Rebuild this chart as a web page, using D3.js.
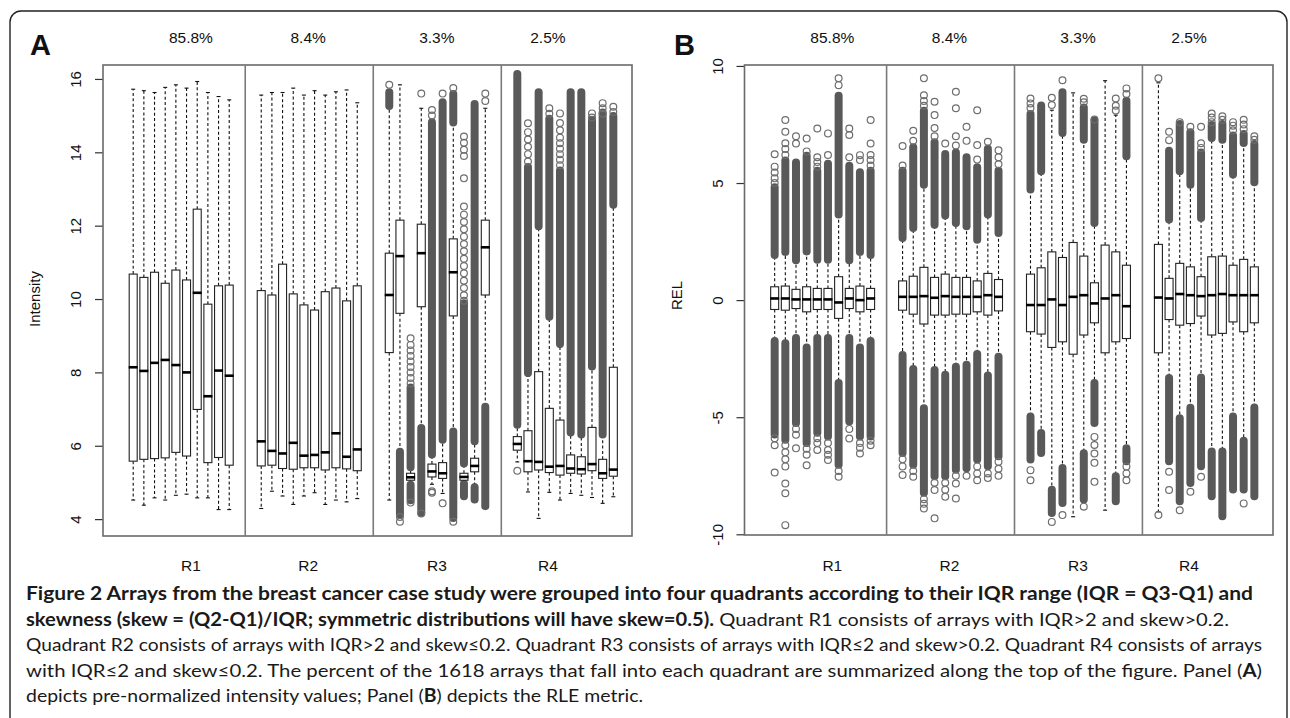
<!DOCTYPE html>
<html>
<head>
<meta charset="utf-8">
<script src="https://cdnjs.cloudflare.com/ajax/libs/d3/7.8.5/d3.min.js"></script>
<style>
  body { margin: 0; background: #fff; }
  svg { display: block; }
</style>
</head>
<body>
<div id="chart"></div>
<script>
// quadrants and share of arrays
const groups = ["R1", "R2", "R3", "R4"];
const shares = ["85.8%", "8.4%", "3.3%", "2.5%"];
const intensityTicks = [4, 6, 8, 10, 12, 14, 16];
const relTicks = [-10, -5, 0, 5, 10];

// box stats per array: [lower whisker, Q1, median, Q3, upper whisker]
const intensityStats = [
  [4.52, 5.58, 8.14, 10.68, 15.72], [4.38, 5.63, 8.04, 10.59, 15.68], [4.58, 5.65, 8.26, 10.73, 15.63],
  [4.52, 5.67, 8.34, 10.43, 15.77], [4.65, 5.82, 8.20, 10.79, 15.84], [4.68, 5.72, 8.00, 10.52, 15.75],
  [4.58, 6.99, 10.17, 12.45, 15.93], [4.58, 5.54, 7.35, 9.86, 15.63], [4.26, 5.68, 8.05, 10.36, 15.52],
  [4.26, 5.47, 7.91, 10.38, 15.43],
  [4.29, 5.45, 6.12, 10.23, 15.56], [4.76, 5.47, 5.86, 10.11, 15.63], [4.63, 5.38, 5.79, 10.95, 15.63],
  [4.40, 5.36, 6.08, 10.14, 15.75], [4.63, 5.40, 5.73, 9.84, 15.56], [4.72, 5.40, 5.75, 9.70, 15.68],
  [4.40, 5.34, 5.82, 10.20, 15.56], [4.52, 5.40, 6.34, 10.30, 15.65], [4.47, 5.37, 5.70, 9.95, 15.70],
  [4.56, 5.32, 5.90, 10.36, 15.35],
  [4.52, 8.54, 10.11, 11.25, 15.20], [5.88, 9.61, 11.17, 12.15, 15.84], [4.95, 5.06, 5.14, 5.25, 5.35],
  [6.55, 9.79, 11.25, 12.04, 15.20], [4.95, 5.15, 5.30, 5.50, 5.70], [4.70, 5.11, 5.25, 5.54, 6.10],
  [6.43, 9.54, 10.73, 11.64, 14.75], [4.98, 5.06, 5.15, 5.25, 5.45], [4.95, 5.29, 5.45, 5.66, 6.05],
  [7.11, 10.11, 11.41, 12.15, 15.20],
  [5.56, 5.88, 6.05, 6.25, 6.50], [4.74, 5.29, 5.58, 6.41, 7.90], [4.02, 5.34, 5.56, 8.02, 11.90],
  [4.73, 5.27, 5.43, 7.02, 9.45], [4.52, 5.20, 5.45, 6.70, 8.70], [4.70, 5.25, 5.38, 5.75, 6.30],
  [4.65, 5.23, 5.36, 5.70, 6.25], [4.59, 5.32, 5.50, 6.50, 8.10], [4.43, 5.11, 5.25, 5.63, 6.25],
  [4.61, 5.17, 5.35, 8.14, 12.50]
];
// runs of overlapping outliers: [from, to]
const intensityDenseHi = [
  null, null, null, null, null, null, null, null, null, null,
  null, null, null, null, null, null, null, null, null, null,
  [15.25, 15.65], null, [5.40, 7.60], null, [5.75, 14.83], [6.15, 15.38], [14.80, 15.60], [5.50, 9.90], [6.11, 15.33], null,
  [6.56, 16.15], [7.97, 13.61], [11.97, 15.65], [9.50, 14.93], [8.76, 13.52], [6.35, 15.65], [6.29, 15.65], [8.15, 14.90], [6.29, 15.10], [12.56, 15.00]
];
const intensityDenseLo = [
  null, null, null, null, null, null, null, null, null, null,
  null, null, null, null, null, null, null, null, null, null,
  null, [4.11, 5.85], [4.50, 4.95], [4.15, 6.50], null, null, [4.02, 6.40], [4.61, 4.98], [4.52, 4.88], [4.34, 7.08],
  null, null, null, null, null, null, null, null, null, null
];
// single outliers
const intensityPoints = [
  [], [], [], [], [], [], [], [], [], [],
  [], [], [], [], [], [], [], [], [], [],
  [15.84], [4.06, 3.93], [7.7, 7.85, 8.0, 8.15, 8.3, 8.45, 8.6, 8.75, 8.93, 4.45], [15.6, 4.15],
  [15.0, 15.15, 4.72, 4.76], [15.6, 4.43], [15.75, 3.93],
  [9.95, 10.1, 10.3, 10.5, 10.7, 10.9, 11.1, 11.3, 11.5, 11.7, 11.9, 12.1, 12.3, 12.52, 13.29, 13.9, 14.07, 14.26, 14.43],
  [], [15.4, 15.6],
  [5.32], [13.75, 13.95, 14.15, 14.35, 14.55, 14.79], [], [15.05, 15.2],
  [13.65, 13.8, 13.95, 14.1, 14.25, 14.4, 14.6, 14.8, 15.06], [], [], [14.95, 15.06], [15.05, 15.2, 15.34], [15.1, 15.24]
];

const relStats = [
  [-1.68, -0.40, 0.07, 0.57, 1.85], [-1.78, -0.43, 0.07, 0.60, 1.99], [-1.57, -0.36, 0.03, 0.46, 1.64],
  [-1.96, -0.50, 0.03, 0.57, 2.02], [-1.57, -0.40, 0.03, 0.50, 1.67], [-1.57, -0.40, 0.03, 0.50, 1.67],
  [-3.49, -0.78, -0.10, 1.00, 3.60], [-1.57, -0.36, 0.07, 0.50, 1.64], [-1.96, -0.50, 0.00, 0.60, 1.99],
  [-1.68, -0.40, 0.07, 0.50, 1.85],
  [-2.28, -0.43, 0.14, 0.82, 2.60], [-2.88, -0.60, 0.14, 1.02, 3.00], [-4.55, -1.02, 0.17, 1.40, 4.85],
  [-2.92, -0.64, 0.10, 0.97, 3.15], [-3.13, -0.64, 0.17, 1.11, 3.55], [-2.78, -0.60, 0.14, 0.97, 3.22],
  [-2.70, -0.60, 0.14, 0.97, 3.10], [-2.25, -0.50, 0.14, 0.82, 2.50], [-3.16, -0.64, 0.21, 1.14, 3.60],
  [-2.35, -0.46, 0.14, 0.88, 2.80],
  [-4.91, -1.35, -0.21, 1.11, 4.65], [-5.62, -1.45, -0.21, 1.38, 5.45], [-8.04, -2.02, 0.03, 2.06, 8.11],
  [-7.12, -1.78, -0.21, 1.82, 7.10], [-9.25, -2.31, 0.14, 2.46, 8.85], [-6.48, -1.49, 0.21, 1.88, 6.80],
  [-3.49, -0.97, -0.14, 0.74, 3.25], [-8.97, -2.25, 0.07, 2.35, 9.37], [-7.47, -1.78, 0.21, 2.06, 7.90],
  [-6.26, -1.64, -0.26, 1.49, 6.10],
  [-9.04, -2.25, 0.11, 2.38, 9.28], [-3.27, -0.83, 0.07, 0.93, 3.38], [-4.98, -1.07, 0.26, 1.57, 5.45],
  [-4.55, -1.00, 0.21, 1.42, 4.88], [-3.24, -0.68, 0.17, 1.00, 3.45], [-6.40, -1.49, 0.21, 1.85, 6.85],
  [-6.40, -1.42, 0.26, 1.88, 6.80], [-4.91, -0.93, 0.21, 1.49, 5.30], [-5.95, -1.35, 0.21, 1.74, 6.65],
  [-4.53, -0.97, 0.21, 1.42, 4.98]
];
const relDenseHi = [
  [1.90, 4.84], [2.03, 5.98], [1.68, 5.90], [2.06, 6.19], [1.70, 5.55], [1.70, 5.84], [3.63, 8.75], [1.68, 5.76], [2.03, 5.48], [1.90, 5.55],
  [2.63, 5.55], [3.06, 6.55], [4.91, 8.11], [3.20, 6.76], [3.59, 6.26], [3.27, 6.33], [3.13, 6.12], [2.56, 5.69], [3.63, 6.48], [2.85, 5.55],
  [4.70, 7.97], [5.48, 8.33], null, [7.12, 8.90], null, [6.83, 8.25], [3.27, 7.69], null, null, [6.12, 8.54],
  null, [3.42, 6.40], [5.48, 7.54], [4.91, 7.19], [3.49, 6.33], [6.90, 7.50], [6.83, 7.54], [5.34, 7.05], [6.69, 7.12], [5.01, 6.69]
];
const relDenseLo = [
  [-5.76, -1.72], [-5.98, -1.82], [-5.27, -1.60], [-6.12, -2.00], [-5.69, -1.60], [-5.84, -1.60], [-7.05, -3.52], [-5.20, -1.60], [-5.84, -2.00], [-5.84, -1.72],
  [-6.55, -2.32], [-7.05, -2.92], [-8.25, -4.60], [-7.54, -2.96], [-7.54, -3.17], [-7.26, -2.82], [-7.20, -2.74], [-6.83, -2.28], [-7.12, -3.20], [-6.69, -2.40],
  [-6.83, -4.95], [-6.55, -5.65], [-9.11, -8.08], [-8.68, -7.15], null, [-8.54, -6.52], [-5.27, -3.52], null, [-8.61, -7.50], [-6.90, -6.30],
  null, [-6.90, -3.30], [-8.61, -5.02], [-7.83, -4.58], [-7.12, -3.28], [-8.40, -6.44], [-9.25, -6.44], [-8.11, -4.95], [-8.11, -5.98], [-8.40, -4.56]
];
const relPoints = [
  [5.0, 5.2, 5.45, 5.7, 6.23, -5.9, -6.2, -7.36],
  [6.2, 6.45, 6.7, 7.19, 7.69, -6.2, -6.5, -6.8, -7.1, -7.83, -8.25, -9.61],
  [6.69, 7.0, -5.5, -5.75, -6.33],
  [6.35, 6.9, -6.35, -6.6, -7.05],
  [5.7, 5.9, 6.1, 7.33, -5.9, -6.1, -6.4],
  [6.2, 7.12, -6.1, -6.4, -6.6, -6.83],
  [9.18, 9.47, -7.3, -7.54],
  [6.1, 7.05, 7.33, -5.5, -5.91],
  [5.98, 6.19, -6.1, -6.3, -6.55],
  [5.75, 5.98, 6.2, 6.69, 7.69, -6.0, -6.2],
  [5.75, 6.58, -6.8, -7.1, -7.47],
  [6.8, 7.23, -7.3, -7.54],
  [8.3, 8.5, 8.75, 9.47, -8.5, -8.7, -8.9],
  [7.0, 7.35, 7.9, 8.47, -7.8, -8.11, -9.32],
  [6.69, -7.8, -8.1, -8.4],
  [6.6, 7.0, 8.19, 8.9, -7.5, -7.83, -8.47],
  [6.8, 7.4, -7.5],
  [6.0, 6.62, 8.11, -7.1, -7.4, -7.69],
  [6.76, -7.4, -7.6],
  [5.8, 6.1, 6.4, -6.9, -7.2, -7.5],
  [8.2, 8.4, 8.61, -7.26, -7.69],
  [],
  [8.33, 8.64, -9.47],
  [9.39, -9.18],
  [],
  [8.45, 8.6, -8.82],
  [7.71, -5.84, -6.19, -6.55, -6.95, -7.76],
  [],
  [8.1, 8.3, 8.61],
  [8.8, 9.04, -7.1, -7.4, -7.69],
  [9.47, -9.18],
  [6.83, 7.19, -7.33, -8.11],
  [7.6, -8.97],
  [7.4, -8.18],
  [6.5, 6.7, 7.4, -7.54],
  [7.6, 7.8, 7.97],
  [7.7, 7.85],
  [7.25, 7.45, 7.6],
  [7.3, 7.5, 7.7, -8.68],
  [6.85, 7.0]
];

const W = 1290, H = 718;
const slotOf = i => Math.floor(i / 10) * 12 + (i % 10);
const labelSlots = [5.41, 16.4, 28.46, 38.87];
const dividers = [10.5, 22.5, 34.5];
const boxW = 8;

const svg = d3.select('#chart').append('svg')
  .attr('width', W).attr('height', H)
  .style('font-family', '"Liberation Sans", Arial, sans-serif');

// outer frame with rounded top corners
svg.append('path')
  .attr('d', 'M10,740 V22 A11,11 0 0 1 21,11 H1276 A11,11 0 0 1 1287,22 V740')
  .attr('fill', 'none').attr('stroke', '#222').attr('stroke-width', 1.4);

function drawPanel(p) {
  const x = d3.scaleLinear().domain([-2.83, 46.75]).range([p.x0, p.x1]);
  const y = d3.scaleLinear().domain(p.domain).range([p.y1, p.y0]);
  const g = svg.append('g');

  // y axis, labels parallel to the axis as in base R
  const ax = g.append('g')
    .attr('transform', `translate(${p.x0},0)`)
    .call(d3.axisLeft(y).tickValues(p.ticks).tickSize(8).tickFormat(d => String(d)));
  ax.select('.domain').remove();
  ax.selectAll('line').attr('stroke', '#333').attr('stroke-width', 1.2);
  ax.selectAll('text')
    .attr('x', 0).attr('dy', 0)
    .attr('transform', 'translate(-22,0) rotate(-90)')
    .attr('text-anchor', 'middle')
    .style('font-size', '15px').style('font-family', '"Liberation Sans", Arial, sans-serif')
    .attr('fill', '#111');

  g.append('text')
    .attr('transform', `translate(${p.x0 - 63},${y(p.labelAt)}) rotate(-90)`)
    .attr('text-anchor', 'middle').style('font-size', '15px').attr('fill', '#111')
    .text(p.ylab);

  g.append('text').attr('x', p.letterX).attr('y', 55)
    .style('font-size', '29px').style('font-weight', 'bold').attr('fill', '#111')
    .text(p.letter);

  // percentages and quadrant names
  g.selectAll('.share').data(shares).enter().append('text')
    .attr('x', (d, i) => x(labelSlots[i])).attr('y', 43)
    .attr('text-anchor', 'middle').style('font-size', '15.5px').attr('fill', '#111')
    .text(d => d);
  g.selectAll('.grp').data(groups).enter().append('text')
    .attr('x', (d, i) => x(labelSlots[i])).attr('y', 571)
    .attr('text-anchor', 'middle').style('font-size', '15.5px').attr('fill', '#111')
    .text(d => d);

  const items = p.stats.map((s, i) => ({ s, cx: x(slotOf(i)), hi: p.denseHi[i], lo: p.denseLo[i], pts: p.points[i] }));

  // whiskers
  const wk = g.append('g').attr('stroke', '#111').attr('stroke-width', 1.1);
  items.forEach(d => {
    wk.append('line').attr('x1', d.cx).attr('x2', d.cx).attr('y1', y(d.s[3])).attr('y2', y(d.s[4]))
      .attr('stroke-dasharray', '3,2.4');
    wk.append('line').attr('x1', d.cx).attr('x2', d.cx).attr('y1', y(d.s[1])).attr('y2', y(d.s[0]))
      .attr('stroke-dasharray', '3,2.4');
    wk.append('line').attr('x1', d.cx - 2).attr('x2', d.cx + 2).attr('y1', y(d.s[4])).attr('y2', y(d.s[4]));
    wk.append('line').attr('x1', d.cx - 2).attr('x2', d.cx + 2).attr('y1', y(d.s[0])).attr('y2', y(d.s[0]));
  });

  // dense outlier runs
  const dense = [];
  items.forEach(d => { if (d.hi) dense.push({ cx: d.cx, r: d.hi }); if (d.lo) dense.push({ cx: d.cx, r: d.lo }); });
  g.selectAll('.dense').data(dense).enter().append('rect')
    .attr('x', d => d.cx - 4).attr('width', 8)
    .attr('y', d => y(d.r[1]) - 3.5).attr('height', d => Math.max(7, y(d.r[0]) - y(d.r[1]) + 7))
    .attr('rx', 4).attr('fill', '#595959');

  // single outliers
  const pts = [];
  items.forEach(d => d.pts.forEach(v => pts.push({ cx: d.cx, v })));
  g.selectAll('.pt').data(pts).enter().append('circle')
    .attr('cx', d => d.cx).attr('cy', d => y(d.v)).attr('r', 3.4)
    .attr('fill', 'none').attr('stroke', '#6e6e6e').attr('stroke-width', 1.2);

  // boxes
  g.selectAll('.box').data(items).enter().append('rect')
    .attr('x', d => d.cx - boxW / 2).attr('width', boxW)
    .attr('y', d => y(d.s[3])).attr('height', d => Math.max(1, y(d.s[1]) - y(d.s[3])))
    .attr('fill', '#fff').attr('stroke', '#222').attr('stroke-width', 1.1);
  g.selectAll('.med').data(items).enter().append('line')
    .attr('x1', d => d.cx - boxW / 2 - 0.5).attr('x2', d => d.cx + boxW / 2 + 0.5)
    .attr('y1', d => y(d.s[2])).attr('y2', d => y(d.s[2]))
    .attr('stroke', '#000').attr('stroke-width', 2.6);

  // frame and quadrant dividers
  g.append('rect').attr('x', p.x0).attr('y', p.y0).attr('width', p.x1 - p.x0).attr('height', p.y1 - p.y0)
    .attr('fill', 'none').attr('stroke', '#6a6a6a').attr('stroke-width', 1.6);
  g.selectAll('.div').data(dividers).enter().append('line')
    .attr('x1', d => x(d)).attr('x2', d => x(d)).attr('y1', p.y0).attr('y2', p.y1)
    .attr('stroke', '#7a7a7a').attr('stroke-width', 1.6);
}

drawPanel({ x0: 103, x1: 632, y0: 65, y1: 536, domain: [3.54, 16.38], ticks: intensityTicks,
  ylab: 'Intensity', labelAt: 10, letter: 'A', letterX: 30,
  stats: intensityStats, denseHi: intensityDenseHi, denseLo: intensityDenseLo, points: intensityPoints });
drawPanel({ x0: 744.5, x1: 1273, y0: 65, y1: 535, domain: [-10.03, 10.04], ticks: relTicks,
  ylab: 'REL', labelAt: 0.2, letter: 'B', letterX: 674,
  stats: relStats, denseHi: relDenseHi, denseLo: relDenseLo, points: relPoints });

// caption: one text per line, bold runs as tspans, fitted to the measured line width
const capFont = 'Lato, "Open Sans", sans-serif';
const caption = [
  { y: 600, w: 1227, parts: [['Figure 2 Arrays from the breast cancer case study were grouped into four quadrants according to their IQR range (IQR = Q3-Q1) and', true]] },
  { y: 625.5, w: 1203, parts: [['skewness (skew = (Q2-Q1)/IQR; symmetric distributions will have skew=0.5).', true],
    [' Quadrant R1 consists of arrays with IQR>2 and skew>0.2.', false]] },
  { y: 651, w: 1236, parts: [['Quadrant R2 consists of arrays with IQR>2 and skew≤0.2. Quadrant R3 consists of arrays with IQR≤2 and skew>0.2. Quadrant R4 consists of arrays', false]] },
  { y: 676.5, w: 1236, parts: [['with IQR≤2 and skew≤0.2. The percent of the 1618 arrays that fall into each quadrant are summarized along the top of the figure. Panel (', false],
    ['A', true], [')', false]] },
  { y: 702, w: 617, parts: [['depicts pre-normalized intensity values; Panel (', false], ['B', true], [') depicts the RLE metric.', false]] }
];
caption.forEach(line => {
  const t = svg.append('text').attr('x', 26).attr('y', line.y)
    .attr('textLength', line.w).attr('lengthAdjust', 'spacingAndGlyphs')
    .style('font-family', capFont).style('font-size', '18px').attr('fill', '#1a1a1a')
    .style('white-space', 'pre');
  line.parts.forEach(p => {
    t.append('tspan').style('font-weight', p[1] ? 'bold' : 'normal').text(p[0]);
  });
});
</script>
</body>
</html>
